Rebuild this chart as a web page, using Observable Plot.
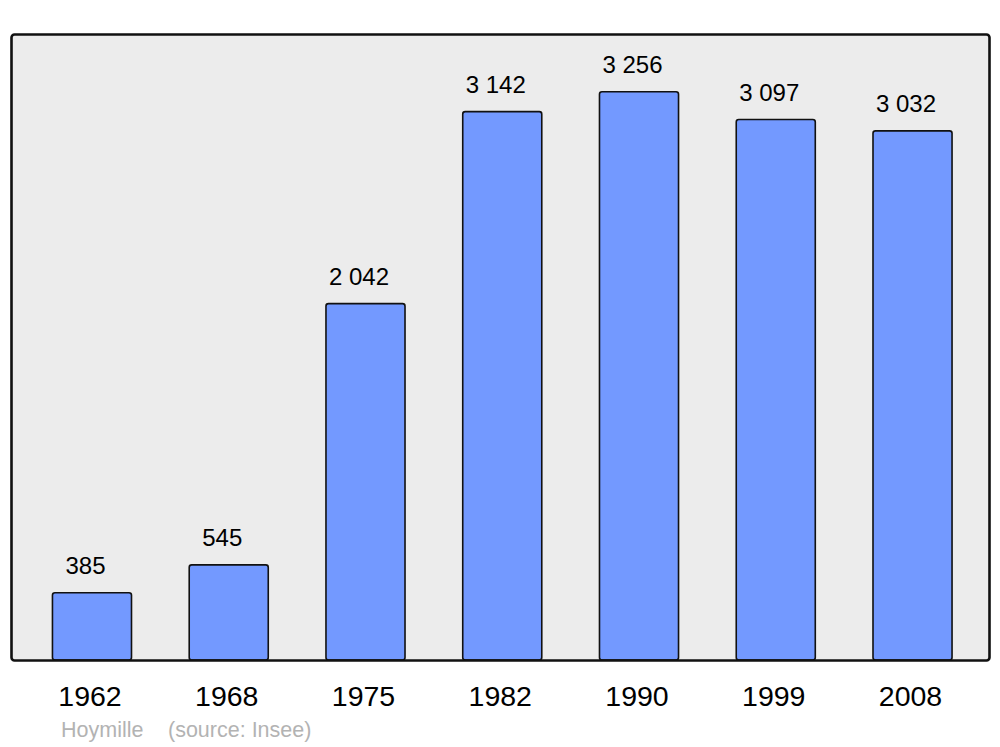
<!DOCTYPE html>
<html>
<head>
<meta charset="utf-8">
<script src="https://cdn.jsdelivr.net/npm/d3@7"></script>
<script src="https://cdn.jsdelivr.net/npm/@observablehq/plot@0.6"></script>
<style>
  body { margin: 0; background: #fff; font-family: "Liberation Sans", Arial, sans-serif; }
  .cap { position: absolute; top: 715px; height: 30px; line-height: 30px; font-size: 21.5px; color: #b3b3b3; white-space: pre; }
</style>
</head>
<body>
<div id="chart"></div>
<div id="cap1" class="cap" style="left:61px"></div>
<div id="cap2" class="cap" style="left:168px"></div>
<script>
const years = ["1962", "1968", "1975", "1982", "1990", "1999", "2008"];
const population = [385, 545, 2042, 3142, 3256, 3097, 3032];
const commune = "Hoymille";
const source = "(source: Insee)";

const data = years.map((y, i) => ({year: y, value: population[i]}));
const fmt = v => d3.format(",")(v).replace(/,/g, " ");

const plot = Plot.plot({
  width: 1000,
  height: 715,
  marginLeft: 11,
  marginRight: 11,
  marginTop: 34,
  marginBottom: 55,
  style: {fontFamily: "Liberation Sans, Arial, sans-serif", background: "white"},
  x: {domain: years, range: [23.6, 980.9], paddingInner: 0.422, paddingOuter: 0.211, round: false, label: null},
  y: {domain: [0, 3587], range: [660, 34], axis: null},
  marks: [
    Plot.frame({fill: "#ececec", stroke: "none", rx: 3}),
    Plot.barY(data, {x: "year", y: "value", fill: "#7399ff", stroke: "#111", strokeWidth: 1.6, rx: 2.5}),
    Plot.text(data, {x: "year", y: "value", text: d => fmt(d.value), dy: -27, dx: -7, fontSize: 24, fill: "black"}),
    Plot.frame({stroke: "#111", strokeWidth: 2.6, rx: 3}),
    Plot.axisX({tickSize: 0, tickPadding: 25, fontSize: 28.5, dx: -2.5, label: null, color: "black"})
  ]
});
document.getElementById("chart").appendChild(plot);
document.getElementById("cap1").textContent = commune;
document.getElementById("cap2").textContent = source;
</script>
</body>
</html>
